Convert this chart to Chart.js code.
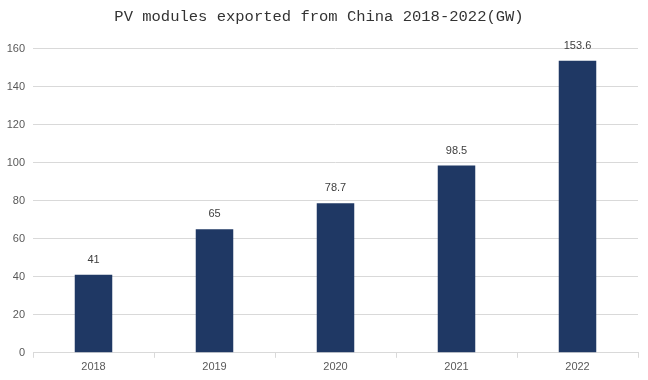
<!DOCTYPE html>
<html>
<head>
<meta charset="utf-8">
<script src="https://cdn.jsdelivr.net/npm/chart.js@4"></script>
<style>
html,body{margin:0;padding:0;background:#fff;}
#wrap{width:648px;height:380px;}
</style>
</head>
<body>
<div id="wrap"><canvas id="c" width="648" height="380"></canvas></div>
<script>
const categories = ["2018", "2019", "2020", "2021", "2022"];
const exportsGW = [41, 65, 78.7, 98.5, 153.6];
const valueLabels = ["41", "65", "78.7", "98.5", "153.6"];
const titleText = "PV modules exported from China 2018-2022(GW)";

const labelPlugin = {
  id: 'valueLabels',
  afterDatasetsDraw(chart) {
    const ctx = chart.ctx;
    const meta = chart.getDatasetMeta(0);
    ctx.save();
    ctx.font = '11px "Liberation Sans", Arial, sans-serif';
    ctx.fillStyle = '#404040';
    ctx.textAlign = 'center';
    ctx.textBaseline = 'middle';
    meta.data.forEach((bar, i) => {
      ctx.fillText(valueLabels[i], bar.x, bar.y - 15);
    });
    ctx.restore();
  }
};

new Chart(document.getElementById('c'), {
  type: 'bar',
  data: {
    labels: categories,
    datasets: [{
      data: exportsGW,
      backgroundColor: '#1F3864',
      barPercentage: 0.31,
      categoryPercentage: 1.0
    }]
  },
  options: {
    responsive: false,
    animation: false,
    layout: { padding: { left: 0, right: 10, top: 0, bottom: 3 } },
    plugins: {
      legend: { display: false },
      tooltip: { enabled: false },
      title: {
        display: true,
        text: titleText,
        color: '#333333',
        font: { family: '"Liberation Mono", "DejaVu Sans Mono", monospace', size: 15.5, weight: 'normal' },
        padding: { top: 8, bottom: 22 }
      }
    },
    scales: {
      x: {
        grid: { display: true, drawOnChartArea: false, drawTicks: true, tickLength: 5, color: '#d9d9d9', offset: true },
        border: { display: true, color: '#d9d9d9' },
        ticks: { color: '#595959', font: { family: '"Liberation Sans", Arial, sans-serif', size: 11 }, padding: 3 }
      },
      y: {
        min: 0, max: 160,
        ticks: { stepSize: 20, color: '#595959', font: { family: '"Liberation Sans", Arial, sans-serif', size: 11 }, padding: 8 },
        grid: { color: '#d9d9d9', drawTicks: false },
        border: { display: false },
        afterFit(scale) { scale.width = 33; }
      }
    }
  },
  plugins: [labelPlugin]
});
</script>
</body>
</html>
